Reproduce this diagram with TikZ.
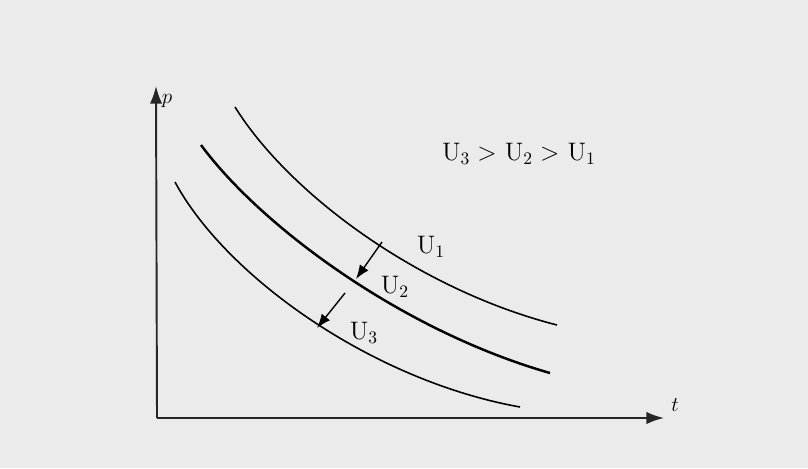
\documentclass[tikz,border=0pt]{standalone}
\usepackage{amsmath}
\usetikzlibrary{arrows.meta}

\begin{document}
\begin{tikzpicture}[x=0.02cm,y=-0.02cm,inner sep=0pt,font=\Large]
\fill[black!8] (0,0) rectangle (808,468);
\useasboundingbox (0,0) rectangle (808,468);
\tikzset{curve/.style={line width=0.9pt},axis/.style={line width=1.1pt,black!85,-{Latex[length=10pt,width=7pt]}}}

% axes
\coordinate (o) at (157,418);
\coordinate (ytop) at (156,86);
\coordinate (xend) at (664,418);
\draw[axis] (o) -- (ytop);
\draw[axis] (o) -- (xend);
\node (p) at (167,101) {\large$p$};
\node (t) at (675,405) {\large$t$};

% courbes
\draw[curve] (235,107) .. controls (290,195) and (420,290) .. (557,325);
\draw[curve,line width=1.4pt] (201,145) .. controls (260,225) and (400,330) .. (550,373);
\draw[curve] (175,182) .. controls (225,275) and (370,380) .. (520,407);

\node (u1) at (431,247) {U$_1$};
\node (u2) at (395,287) {U$_2$};
\node (u3) at (364,333) {U$_3$};
\node (rel) at (519,154) {U$_3 >$ U$_2 >$ U$_1$};

% fleches
\coordinate (a1) at (382,242);
\coordinate (b1) at (356,279);
\coordinate (a2) at (345,293);
\coordinate (b2) at (317,328);
\draw[line width=0.8pt,-{Latex[length=8pt,width=6pt]}] (a1) -- (b1);
\draw[line width=0.8pt,-{Latex[length=8pt,width=6pt]}] (a2) -- (b2);
\end{tikzpicture}
\end{document}
